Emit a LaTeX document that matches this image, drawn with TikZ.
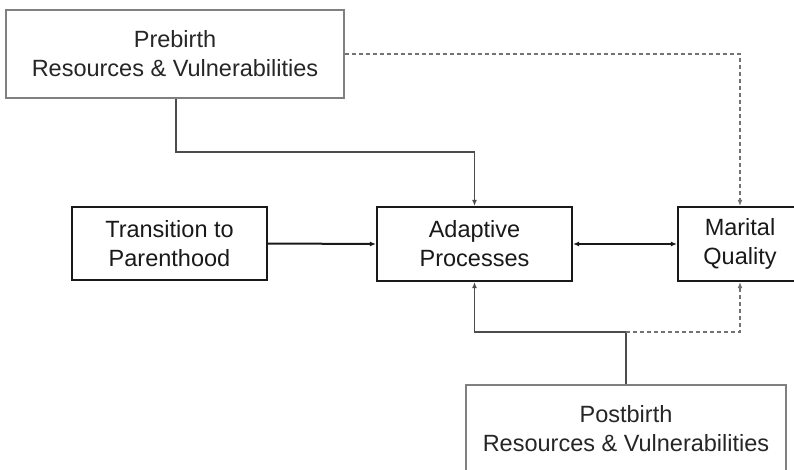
\documentclass[tikz,border=0pt]{standalone}
\usepackage{fontspec}
\setmainfont{Liberation Sans}
\usetikzlibrary{arrows.meta,calc}
\begin{document}
\begin{tikzpicture}[x=1pt,y=-1pt,
  every node/.style={font=\fontsize{23.5}{29}\selectfont, align=center, inner sep=0pt},
  thinbox/.style={draw=black!50, line width=1.1pt, fill=white, text=black!85},
  thickbox/.style={draw=black!90, line width=2.2pt, fill=white, text=black!90},
  tip/.style={-{Latex[length=6pt,width=5pt]}},
  conn/.style={draw=black!70, line width=1.1pt},
  dconn/.style={draw=black!55, line width=1.1pt, dash pattern=on 4pt off 3pt},
  bold/.style={draw=black!90, line width=2pt}
]
\useasboundingbox (0,0) rectangle (794,470);
\fill[white] (0,0) rectangle (794,470);
\clip (0,0) rectangle (794,470);

\node[thinbox, minimum width=338pt, minimum height=88pt] (pre) at (175,54) {Prebirth\\Resources \& Vulnerabilities};
\node[thickbox, minimum width=195pt, minimum height=73pt] (trans) at (169.5,243.5) {Transition to\\Parenthood};
\node[thickbox, minimum width=195pt, minimum height=74pt] (adapt) at (474.5,244) {Adaptive\\Processes};
\node[thickbox, minimum width=124pt, minimum height=74pt] (mar) at (740,244) {Marital\\Quality};
\node[thinbox, minimum width=320pt, minimum height=88pt] (post) at (626,429) {Postbirth\\Resources \& Vulnerabilities};

\coordinate (j1) at (300,152);
\coordinate (j2) at (626,332);

\draw[conn, tip] ([xshift=1pt]pre.south) |- (j1) -| (adapt.north);
\draw[dconn, tip] (pre.east) -| (mar.north);
\draw[bold, tip] (trans.east) -- (adapt.west);
\draw[bold, {Latex[length=6pt,width=5pt]}-{Latex[length=6pt,width=5pt]}] (adapt.east) -- (mar.west);
\draw[conn, tip] (post.north) -- (j2) -| (adapt.south);
\draw[dconn, tip] (j2) -| (mar.south);
\end{tikzpicture}
\end{document}
